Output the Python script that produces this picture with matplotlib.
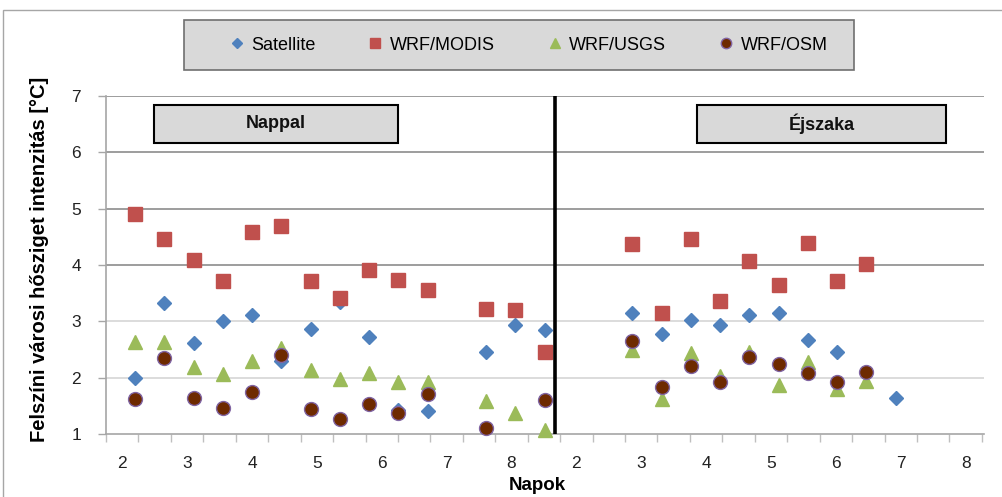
import numpy as np
import matplotlib
matplotlib.use("Agg")
import matplotlib.pyplot as plt
from matplotlib.lines import Line2D
from matplotlib.patches import Rectangle

plt.rcParams['font.family'] = ['Liberation Sans', 'DejaVu Sans']

# ---------------- data ----------------
nan = np.nan
# slot index along the x axis (day slots; 0-14 daytime, 17-26 night)
slots = list(range(27))

satellite = [1.99, 3.33, 2.62, 3.00, 3.11, 2.30, 2.86, 3.34, 2.72, 1.43, 1.41, nan, 2.46, 2.94, 2.85,
             nan, nan,
             3.14, 2.77, 3.02, 2.93, 3.11, 3.14, 2.66, 2.46, 2.10, 1.64]
wrf_modis = [4.90, 4.47, 4.09, 3.71, 4.58, 4.69, 3.71, 3.42, 3.91, 3.73, 3.56, nan, 3.22, 3.21, 2.46,
             nan, nan,
             4.37, 3.14, 4.47, 3.36, 4.07, 3.65, 4.39, 3.72, 4.01, nan]
wrf_usgs = [2.64, 2.64, 2.19, 2.06, 2.30, 2.53, 2.14, 1.97, 2.08, 1.92, 1.92, nan, 1.59, 1.37, 1.07,
            nan, nan,
            2.50, 1.63, 2.43, 2.03, 2.45, 1.87, 2.27, 1.80, 1.94, nan]
wrf_osm = [1.62, 2.35, 1.64, 1.46, 1.75, 2.40, 1.44, 1.27, 1.53, 1.37, 1.71, nan, 1.10, nan, 1.60,
           nan, nan,
           2.65, 1.83, 2.21, 1.92, 2.37, 2.24, 2.09, 1.93, 2.10, nan]

series_names = ['Satellite', 'WRF/MODIS', 'WRF/USGS', 'WRF/OSM']
x_tick_labels = ['2', '3', '4', '5', '6', '7', '8', '2', '3', '4', '5', '6', '7', '8']
y_ticks = [1, 2, 3, 4, 5, 6, 7]
panel_titles = ['Nappal', 'Éjszaka']
y_label = 'Felszíni városi hősziget intenzitás [°C]'
x_label = 'Napok'

# ---------------- styling ----------------
W, H = 1003, 497
fig = plt.figure(figsize=(W / 100, H / 100), dpi=100)
fig.patch.set_facecolor('white')

ax_l, ax_r, ax_t, ax_b = 106, 984, 96, 434
ax = fig.add_axes([ax_l / W, 1 - ax_b / H, (ax_r - ax_l) / W, (ax_b - ax_t) / H])

slot_px, slot0_px = 29.25, 135.0
xmin = (ax_l - slot0_px) / slot_px
xmax = (ax_r - slot0_px) / slot_px
ax.set_xlim(xmin, xmax)
ax.set_ylim(1, 7)

# gridlines
for yv in y_ticks[1:]:
    col = '#8c8c8c' if yv >= 4 else '#d6d6d6'
    ax.axhline(yv, color=col, lw=1.2, zorder=0)

colors = ['#4F81BD', '#C0504D', '#9BBB59', '#6E2A00']
markers = ['D', 's', '^', 'o']
sizes = [7.2, 10, 10, 10]
data = [satellite, wrf_modis, wrf_usgs, wrf_osm]
for i, (vals, c, m, s) in enumerate(zip(data, colors, markers, sizes)):
    ec = '#8064A2' if m == 'o' else c
    ax.plot(slots, vals, linestyle='none', marker=m, markersize=s, color=c,
            markeredgecolor=ec, markeredgewidth=1.0, zorder=3 + i, clip_on=False)

# separator line
ax.axvline((555 - slot0_px) / slot_px, color='black', lw=2.6, zorder=10)

# spines
for sp in ['top', 'right']:
    ax.spines[sp].set_visible(False)
for sp in ['left', 'bottom']:
    ax.spines[sp].set_color('#a6a6a6')
    ax.spines[sp].set_linewidth(1.2)

# y ticks
ax.set_yticks(y_ticks)
ax.tick_params(axis='y', length=6, width=1, color='#a6a6a6', pad=12, labelsize=12.5,
               labelcolor='#222222')

# x ticks: minor marks for every interval, labels centred every two intervals
tick_step = 32.44 / slot_px
n_int = 27
minor_pos = [xmin + j * tick_step for j in range(n_int + 1)]
major_pos = [xmin + (2 * i + 0.5) * tick_step for i in range(len(x_tick_labels))]
ax.set_xticks(major_pos)
ax.set_xticklabels(x_tick_labels)
ax.set_xticks(minor_pos, minor=True)
ax.tick_params(axis='x', which='major', length=0, pad=16, labelsize=12.5, labelcolor='#222222')
ax.tick_params(axis='x', which='minor', length=6, width=1, color='#bfbfbf')

# axis labels
fig.text(40 / W, 1 - 259 / H, y_label, rotation=90, ha='center', va='center',
         fontsize=14.5, fontweight='bold', color='black')
fig.text(537 / W, 1 - 486 / H, x_label, ha='center', va='center',
         fontsize=13.5, fontweight='bold', color='black')

# panel title boxes
boxes = [(154, 398), (697, 946)]
for (x0, x1), title in zip(boxes, panel_titles):
    y0, y1 = 105, 143
    fig.patches.append(Rectangle((x0 / W, 1 - y1 / H), (x1 - x0) / W, (y1 - y0) / H,
                                 transform=fig.transFigure, facecolor='#d9d9d9',
                                 edgecolor='black', lw=1.5, zorder=5))
    fig.text((x0 + x1) / 2 / W, 1 - (y0 + y1) / 2 / H, title, ha='center', va='center',
             fontsize=13, fontweight='bold', color='#111111', zorder=6)

# outer border (left & top visible)
fig.patches.append(Rectangle((3 / W, -0.2), 1.5, (H - 10) / H + 0.2, transform=fig.transFigure,
                             fill=False, edgecolor='#a6a6a6', lw=1.0, zorder=0))

# legend box
lx0, lx1, ly0, ly1 = 184, 854, 20, 70
fig.patches.append(Rectangle((lx0 / W, 1 - ly1 / H), (lx1 - lx0) / W, (ly1 - ly0) / H,
                             transform=fig.transFigure, facecolor='#d9d9d9',
                             edgecolor='#6f6f6f', lw=1.2, zorder=1))

handles = [Line2D([], [], linestyle='none', marker=m, markersize=s, color=c,
                  markeredgecolor=('#8064A2' if m == 'o' else c))
           for c, m, s in zip(colors, markers, sizes)]
leg = fig.legend(handles, series_names, loc='center',
                 bbox_to_anchor=(205 / W, 1 - 70 / H, 640 / W, 50 / H),
                 mode='expand', ncol=4, fontsize=13, frameon=False,
                 borderpad=0.95, handletextpad=0.0, handlelength=1.6, markerscale=0.75,
                 numpoints=1, borderaxespad=0)
leg.set_zorder(3)

fig.savefig('out.png', dpi=100)
